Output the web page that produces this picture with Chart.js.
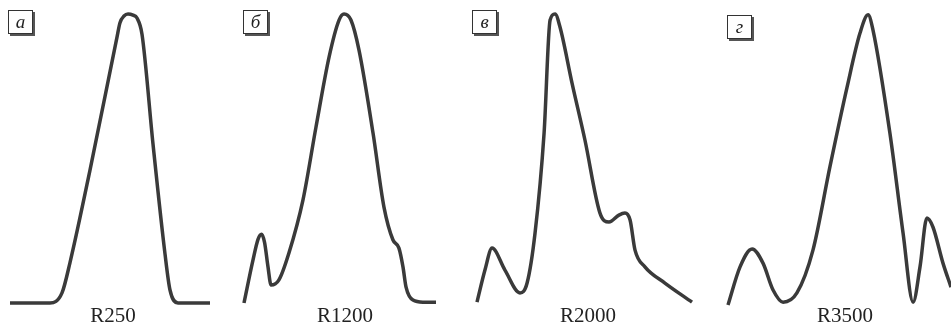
<!DOCTYPE html>
<html>
<head>
<meta charset="utf-8">
<script src="https://cdn.jsdelivr.net/npm/chart.js@4"></script>
<style>
  html, body { margin: 0; padding: 0; background: #fff; }
  #fig { position: relative; width: 951px; height: 326px; overflow: hidden; }
  .panel { position: absolute; top: 0; height: 326px; }
  .tag {
    position: absolute; width: 23px; height: 22px;
    border: 1px solid #333; box-shadow: 2px 2px 0 #555; background: #fff;
    font: italic 19px "Liberation Serif", serif; color: #222;
    text-align: center; line-height: 21px;
  }
  .name {
    position: absolute; top: 305px; width: 80px; margin-left: -40px;
    font: 21px "Liberation Serif", serif; color: #222;
    text-align: center; line-height: 21px;
  }
</style>
</head>
<body>
<div id="fig"></div>
<script>
// Panel labels
const tags = ['а', 'б', 'в', 'г'];
const names = ['R250', 'R1200', 'R2000', 'R3500'];

// Normalised profiles: x = position along panel (0..100), y = intensity (0..100)
const xA = [0, 20, 26, 30, 40, 53.5, 55, 57, 59, 61.5, 63.5, 66, 71.5, 77.5, 80, 84, 100];
const yA = [0, 0, 3.5, 14, 46, 92, 97, 99.3, 100, 99.6, 98.6, 93, 55, 17, 4.5, 0, 0];

const xB = [0, 4.7, 7.3, 9.1, 10.7, 12.5, 14.1, 18.2, 23.4, 30.7, 37.5, 44.3, 49.5, 52.1, 55.7, 59.9, 67.2, 72.9, 77.6, 80.7, 82.8, 84.4, 88, 93.2, 100];
const yB = [0, 14.9, 22, 23.8, 21, 12.5, 6.2, 8, 17.3, 35.6, 60.9, 85.1, 97.9, 100, 97.9, 87.5, 58.8, 33.2, 21.8, 19, 12.5, 5.5, 1, 0.3, 0.3];

const xC = [0, 3.7, 7, 13, 20, 23.3, 27, 31.2, 34, 36.3, 38.6, 44.2, 50.2, 57.2, 61.4, 66, 68.8, 71.2, 73.5, 78.1, 87.4, 100];
const yC = [0.3, 11.4, 19, 11.4, 3.5, 6.9, 24.2, 58.8, 97.9, 100, 95.5, 76.1, 56.4, 31.1, 28, 30.4, 31.1, 28.7, 18.3, 12.5, 6.9, 0.3];

const xD = [0, 5.4, 10.8, 15.7, 20.2, 24.7, 30.9, 38.1, 45.7, 53.4, 59.2, 62.8, 65, 72.6, 78.5, 83, 86.1, 89.2, 91.9, 96.4, 100];
const yD = [-0.7, 12.5, 18.7, 13.8, 4.5, 0.3, 3.5, 18.3, 47.1, 74.7, 93.4, 99.7, 94.5, 58.8, 24.2, 0.3, 12.5, 29.4, 26.3, 13.8, 5.5];

const series = [[xA, yA], [xB, yB], [xC, yC], [xD, yD]];

// layout: where each profile sits on the page
const spans = [[10, 210], [244, 436], [477, 692], [728, 951]];
const tagPos = [[8, 10], [243, 10], [472, 10], [727, 15]];
const namePos = [113, 345, 588, 845];
const yBase = 303, yTop = 14, H = 326, pad = 8;

const fig = document.getElementById('fig');

series.forEach(([xs, ys], i) => {
  const [x0, x1] = spans[i];
  const span = x1 - x0;
  const W = span + 2 * pad;

  const box = document.createElement('div');
  box.className = 'panel';
  box.style.left = (x0 - pad) + 'px';
  box.style.width = W + 'px';
  const cv = document.createElement('canvas');
  cv.width = W; cv.height = H;
  box.appendChild(cv);
  fig.appendChild(box);

  const yr = (yBase - yTop) / 100;
  new Chart(cv.getContext('2d'), {
    type: 'line',
    data: {
      datasets: [{
        data: xs.map((x, k) => ({ x: x, y: ys[k] })),
        borderColor: '#3a3a3a',
        borderWidth: 3.5,
        pointRadius: 0,
        cubicInterpolationMode: 'monotone',
        clip: false,
        fill: false
      }]
    },
    options: {
      responsive: false,
      animation: false,
      layout: { padding: 0 },
      plugins: { legend: { display: false }, tooltip: { enabled: false } },
      scales: {
        x: { type: 'linear', display: false, min: -pad / span * 100, max: 100 + pad / span * 100 },
        y: { display: false, min: -(H - yBase) / yr, max: 100 + yTop / yr }
      }
    }
  });

  const t = document.createElement('div');
  t.className = 'tag';
  t.textContent = tags[i];
  t.style.left = tagPos[i][0] + 'px';
  t.style.top = tagPos[i][1] + 'px';
  fig.appendChild(t);

  const n = document.createElement('div');
  n.className = 'name';
  n.textContent = names[i];
  n.style.left = namePos[i] + 'px';
  fig.appendChild(n);
});
</script>
</body>
</html>
